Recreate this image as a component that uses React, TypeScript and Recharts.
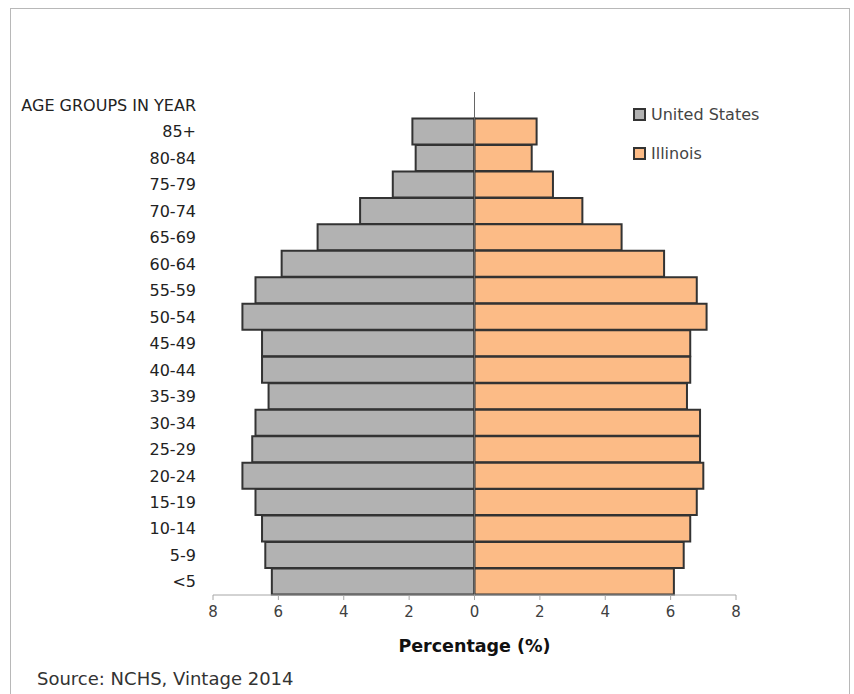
import { BarChart, Bar, XAxis, YAxis, ReferenceLine } from "recharts";

const ageGroups = [
  "AGE GROUPS IN YEAR",
  "85+",
  "80-84",
  "75-79",
  "70-74",
  "65-69",
  "60-64",
  "55-59",
  "50-54",
  "45-49",
  "40-44",
  "35-39",
  "30-34",
  "25-29",
  "20-24",
  "15-19",
  "10-14",
  "5-9",
  "<5",
];

const usValues = [null, 1.9, 1.8, 2.5, 3.5, 4.8, 5.9, 6.7, 7.1, 6.5, 6.5, 6.3, 6.7, 6.8, 7.1, 6.7, 6.5, 6.4, 6.2];
const ilValues = [null, 1.9, 1.75, 2.4, 3.3, 4.5, 5.8, 6.8, 7.1, 6.6, 6.6, 6.5, 6.9, 6.9, 7.0, 6.8, 6.6, 6.4, 6.1];

const xTicks = [-8, -6, -4, -2, 0, 2, 4, 6, 8];

const data = ageGroups.map((age, i) => ({
  age,
  us: usValues[i] == null ? null : -(usValues[i] as number),
  il: ilValues[i],
}));

const FONT = "'DejaVu Sans', sans-serif";
const US_FILL = "#b2b2b2";
const IL_FILL = "#fcbb86";
const OUTLINE = "#333";

function LegendBox() {
  const items = [
    { label: "United States", fill: US_FILL },
    { label: "Illinois", fill: IL_FILL },
  ];
  return (
    <div
      style={{
        position: "absolute",
        left: 633,
        top: 104,
        fontFamily: FONT,
        fontSize: 16,
        color: "#444",
      }}
    >
      {items.map((it) => (
        <div key={it.label} style={{ display: "flex", alignItems: "center", height: 20, marginBottom: 19 }}>
          <span
            style={{
              display: "inline-block",
              width: 9,
              height: 9,
              background: it.fill,
              border: `2px solid ${OUTLINE}`,
              marginRight: 5,
            }}
          />
          <span>{it.label}</span>
        </div>
      ))}
    </div>
  );
}

export default function App() {
  return (
    <div style={{ position: "absolute", left: 0, top: 0, width: 854, height: 694, background: "#fff", overflow: "hidden" }}>
      <div
        style={{
          position: "absolute",
          left: 10,
          top: 8,
          width: 840,
          height: 700,
          border: "1px solid #b8b8b8",
          boxSizing: "border-box",
        }}
      />
      <BarChart
        width={854}
        height={694}
        data={data}
        layout="vertical"
        stackOffset="sign"
        barCategoryGap={0}
        margin={{ top: 92, right: 118, bottom: 0, left: 0 }}
        style={{ position: "absolute", left: 0, top: 0 }}
      >
        <XAxis
          type="number"
          domain={[-8, 8]}
          ticks={xTicks}
          tickFormatter={(v: number) => String(Math.abs(v))}
          axisLine={{ stroke: "#a6a6a6" }}
          tickLine={{ stroke: "#a6a6a6" }}
          tickSize={5}
          tickMargin={6}
          height={99}
          tick={{ fill: "#404040", fontSize: 15, fontFamily: FONT }}
          label={{
            value: "Percentage (%)",
            position: "insideBottom",
            offset: 42,
            fill: "#111",
            fontSize: 17.5,
            fontWeight: "bold",
            fontFamily: FONT,
          }}
        />
        <YAxis
          type="category"
          dataKey="age"
          width={213}
          axisLine={false}
          tickLine={false}
          tickMargin={11}
          interval={0}
          tick={{ fill: "#222", fontSize: 16, fontFamily: FONT }}
        />
        <ReferenceLine x={0} stroke="#666" strokeWidth={1} />
        <Bar
          dataKey="us"
          name="United States"
          stackId="a"
          fill={US_FILL}
          stroke={OUTLINE}
          strokeWidth={2}
          isAnimationActive={false}
        />
        <Bar
          dataKey="il"
          name="Illinois"
          stackId="a"
          fill={IL_FILL}
          stroke={OUTLINE}
          strokeWidth={2}
          isAnimationActive={false}
        />
      </BarChart>
      <LegendBox />
      <div
        style={{
          position: "absolute",
          left: 37,
          top: 668,
          fontFamily: FONT,
          fontSize: 18,
          color: "#333",
          whiteSpace: "nowrap",
        }}
      >
        Source: NCHS, Vintage 2014
      </div>
    </div>
  );
}
